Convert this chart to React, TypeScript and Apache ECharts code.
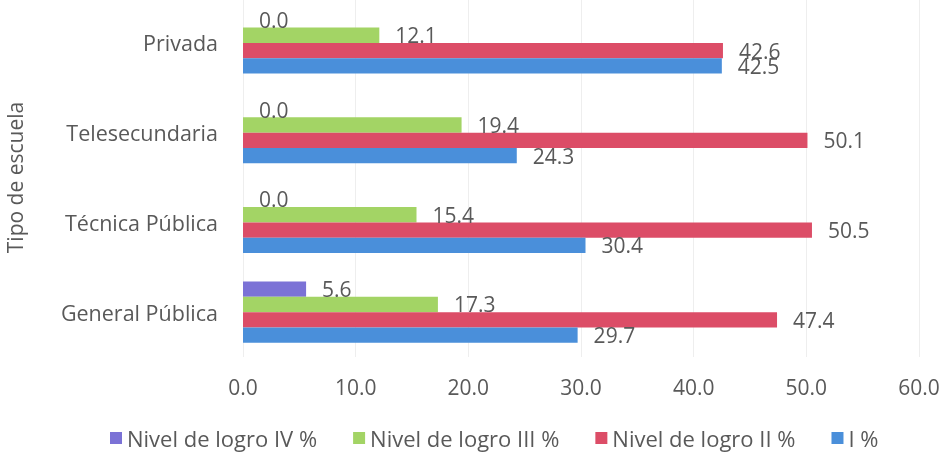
import React, { useEffect, useRef } from "react";
import * as echarts from "echarts";

const categories = ["General Pública", "Técnica Pública", "Telesecundaria", "Privada"];
const seriesNames = ["Nivel de logro IV %", "Nivel de logro III %", "Nivel de logro II %", "I %"];
const nivelIV = [5.6, 0.0, 0.0, 0.0];
const nivelIII = [17.3, 15.4, 19.4, 12.1];
const nivelII = [47.4, 50.5, 50.1, 42.6];
const nivelI = [29.7, 30.4, 24.3, 42.5];
const xTicks = { min: 0, max: 60, interval: 10 };
const colors = ["#7B72D6", "#A3D465", "#DC4D67", "#4A8FDA"];

const FONT = "'Open Sans', Lato, sans-serif";
const GREY = "#595959";

export default function App() {
  const ref = useRef<HTMLDivElement>(null);
  useEffect(() => {
    if (!ref.current) return;
    const chart = echarts.init(ref.current, undefined, { renderer: "svg" });
    const values = [nivelIV, nivelIII, nivelII, nivelI];
    chart.setOption({
      animation: false,
      textStyle: { fontFamily: FONT },
      grid: {
        left: 243,
        right: 30,
        top: -2,
        bottom: 99,
        containLabel: false,
        outerBoundsMode: "none",
      },
      legend: {
        data: seriesNames,
        top: 427,
        left: 110,
        padding: 0,
        itemWidth: 12,
        itemHeight: 12,
        itemGap: 36,
        icon: "rect",
        textStyle: { fontFamily: FONT, fontSize: 22, color: GREY },
      },
      xAxis: {
        type: "value",
        min: xTicks.min,
        max: xTicks.max,
        interval: xTicks.interval,
        axisLine: { show: false },
        axisTick: { show: false },
        splitLine: { show: true, lineStyle: { color: "#EEEEEE", width: 1 } },
        axisLabel: {
          fontFamily: FONT,
          fontSize: 21,
          color: GREY,
          margin: 19,
          formatter: (v: number) => v.toFixed(1),
        },
      },
      yAxis: {
        type: "category",
        data: categories,
        name: "Tipo de escuela",
        nameLocation: "middle",
        nameGap: 218,
        nameTextStyle: { fontFamily: FONT, fontSize: 21, color: GREY },
        axisLine: { show: false },
        axisTick: { show: false },
        axisLabel: { fontFamily: FONT, fontSize: 21.5, color: GREY, margin: 25 },
      },
      series: seriesNames.map((name, i) => ({
        name,
        type: "bar",
        data: values[i],
        barCategoryGap: "32%",
        barGap: "0%",
        itemStyle: { color: colors[i] },
        label: {
          show: true,
          position: "right",
          distance: 16,
          fontFamily: FONT,
          fontSize: 21,
          lineHeight: 15,
          color: GREY,
          formatter: (p: any) => Number(p.value).toFixed(1),
        },
      })),
    });
    return () => chart.dispose();
  }, []);
  return (
    <div
      ref={ref}
      style={{ position: "fixed", left: 0, top: 0, width: 949, height: 456 }}
    />
  );
}
